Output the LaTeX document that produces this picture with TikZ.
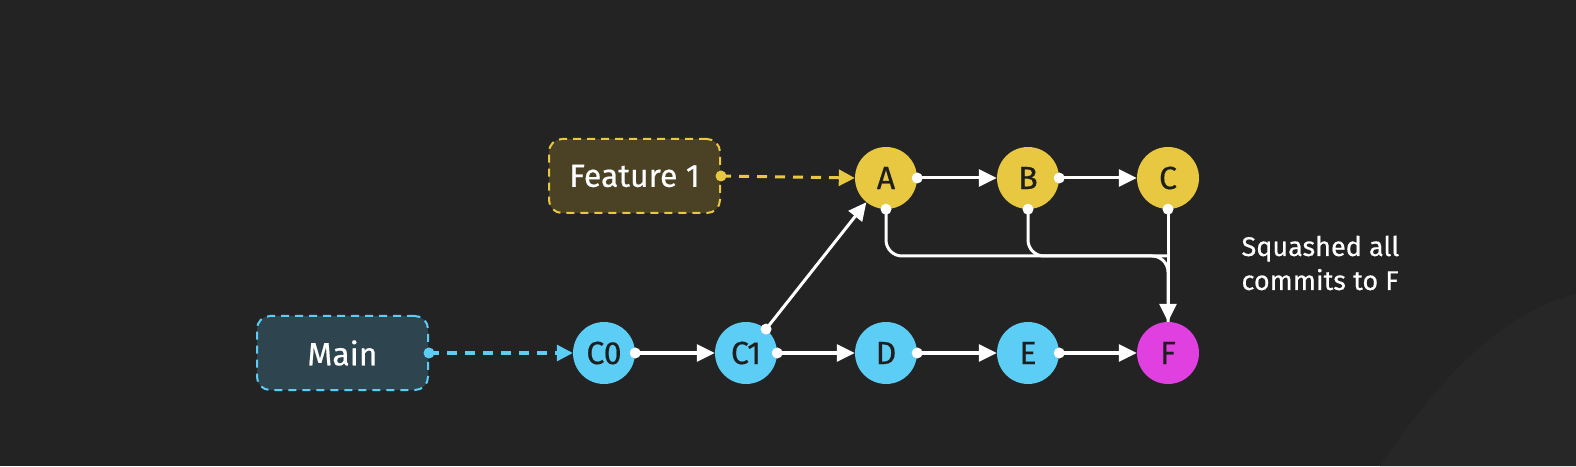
\documentclass[tikz,border=0pt]{standalone}
\usepackage{fontspec}
\setmainfont{Fira Sans}[FakeBold=0.5]
\usetikzlibrary{arrows.meta,positioning,calc}
\definecolor{bg}{HTML}{232323}
\definecolor{bglite}{HTML}{272727}
\definecolor{ylw}{HTML}{E8C840}
\definecolor{blu}{HTML}{5CCDF5}
\definecolor{mag}{HTML}{E040E0}
\definecolor{featfill}{HTML}{4B4226}
\definecolor{mainfill}{HTML}{2E454F}
\definecolor{ink}{HTML}{1E1E1E}
\tikzset{
  commit/.style={circle,minimum size=62pt,inner sep=0pt,text=ink,font=\fontsize{32}{36}\selectfont},
  ycommit/.style={commit,fill=ylw},
  bcommit/.style={commit,fill=blu},
  mcommit/.style={commit,fill=mag},
  branch/.style={rounded corners=13pt,minimum width=171pt,minimum height=74pt,line width=2pt,dash pattern=on 8pt off 6pt,text=white,font=\fontsize{32}{36}\selectfont},
  edge/.style={white,line width=3pt,-{Triangle[length=18pt,width=17pt]}},
  dotw/.style={circle,fill=white,inner sep=0pt,minimum size=11pt},
}
\begin{document}
\begin{tikzpicture}[x=1pt,y=1pt]
\fill[bg] (0,0) rectangle (1576,466);
\useasboundingbox (0,0) rectangle (1576,466);
\fill[bglite] (1380,0) .. controls (1440,90) and (1505,155) .. (1576,172) -- (1576,0) -- cycle;
% nodes
\node[branch,draw=ylw,fill=featfill] (feat) at (634.5,290) {Feature 1};
\node[branch,draw=blu,fill=mainfill] (main) at (342.5,113) {Main};
\node[ycommit] (A) at (886,288) {A};
\node[ycommit] (B) at (1028,288) {B};
\node[ycommit] (C) at (1168,288) {C};
\node[bcommit] (C0) at (604,113) {C0};
\node[bcommit] (C1) at (746,113) {C1};
\node[bcommit] (D) at (886,113) {D};
\node[bcommit] (E) at (1028,113) {E};
\node[mcommit] (F) at (1168,113) {F};
\node[anchor=west,align=left,text=white,font=\fontsize{27}{34}\selectfont] (note) at (1238,203) {Squashed all\\commits to F};
\coordinate (j) at (1168,210);
% dashed branch pointers
\draw[ylw,line width=3pt,dash pattern=on 10pt off 8pt,-{Triangle[length=16pt,width=16pt]}] (feat.east) -- (A.west);
\node[circle,fill=ylw,inner sep=0pt,minimum size=11pt] at (feat.east) {};
\draw[blu,line width=3pt,dash pattern=on 10pt off 8pt,-{Triangle[length=16pt,width=16pt]}] (main.east) -- (C0.west);
\node[circle,fill=blu,inner sep=0pt,minimum size=11pt] at (main.east) {};
% edges
\draw[edge] (A.east) -- (B.west);
\draw[edge] (B.east) -- (C.west);
\draw[edge] (C0.east) -- (C1.west);
\draw[edge] (C1.east) -- (D.west);
\draw[edge] (D.east) -- (E.west);
\draw[edge] (E.east) -- (F.west);
\draw[edge] (C1.50) -- (A.231);
\draw[white,line width=3pt,rounded corners=16pt] (A.south) |- (j) -- (F.north);
\draw[white,line width=3pt,rounded corners=16pt] (B.south) |- (j);
\draw[edge] (C.south) -- (F.north);
% dots
\foreach \p in {A.east,B.east,C0.east,C1.east,D.east,E.east,C1.50,A.south,B.south,C.south}
  \node[dotw] at (\p) {};
\end{tikzpicture}
\end{document}
